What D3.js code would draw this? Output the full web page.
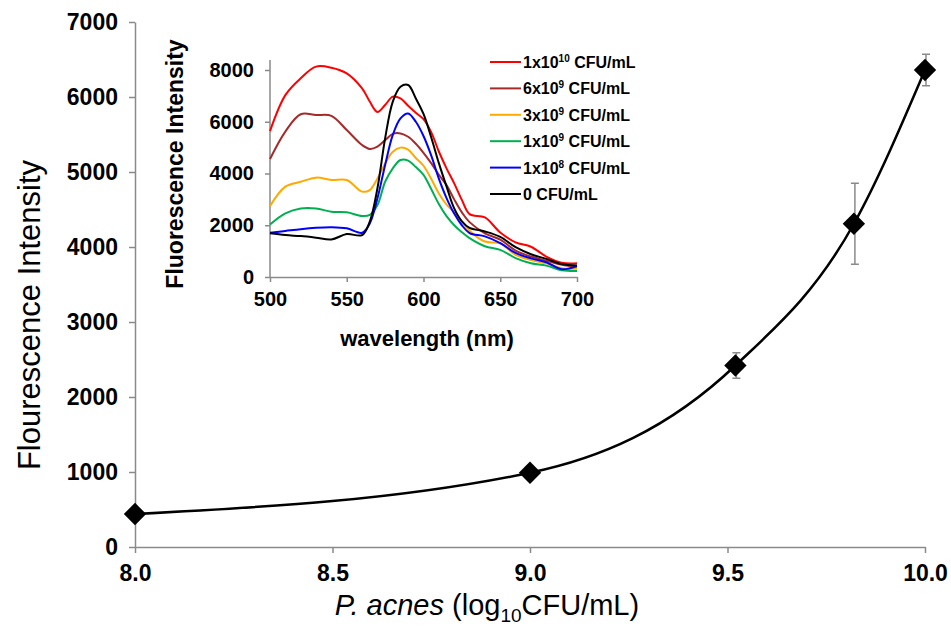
<html>
<head>
<meta charset="UTF-8">
<script src="https://d3js.org/d3.v7.min.js"></script>
<style>
  body { margin: 0; background: #fff; }
  text { font-family: "Liberation Sans", Arial, sans-serif; }
</style>
</head>
<body>
<svg width="951" height="629"></svg>
<script>
// main plot: P. acnes concentration vs fluorescence
var logCfu = [8.0, 9.0, 9.52, 9.82, 10.0];
var intensity = [440, 990, 2420, 4310, 6360];
var errs = [0, 25, 170, 540, 210];
var mainXTicks = [8.0, 8.5, 9.0, 9.5, 10.0];
var mainYTicks = [0, 1000, 2000, 3000, 4000, 5000, 6000, 7000];

// inset spectra
var wavelength = [500,510,520,530,540,550,560,565,570,575,580,585,590,595,600,605,610,615,620,625,630,640,650,660,670,680,690,700];
var s1e10 = [5640,7030,7680,8130,8090,7870,7290,6780,6380,6650,6970,6900,6620,6350,6100,5600,4850,4200,3620,2980,2430,2300,1720,1340,1170,790,550,530];
var s6e9  = [4560,5620,6290,6260,6230,5680,5100,4950,5040,5290,5530,5550,5420,5150,4800,4400,3950,3550,3000,2500,2120,1690,1440,1020,790,630,470,400];
var s3e9  = [2740,3490,3680,3840,3750,3750,3300,3360,3810,4390,4840,5000,4920,4600,4300,3800,3230,2800,2500,2150,1790,1370,1300,860,660,530,340,320];
var s1e9  = [2030,2460,2650,2650,2520,2500,2360,2400,2780,3680,4200,4520,4500,4250,3950,3400,2820,2350,2000,1730,1500,1190,1050,730,530,440,260,230];
var s1e8  = [1710,1780,1850,1900,1920,1880,1710,2070,3040,4330,5490,6130,6320,6000,5450,4700,3800,3050,2450,2000,1700,1570,1310,930,720,570,300,420];
var s0    = [1690,1620,1580,1520,1450,1660,1620,2140,3430,5360,6780,7350,7420,6900,6300,5400,4400,3500,2650,2150,1900,1760,1550,1150,880,700,500,440];
var seriesNames = ["1x10", "6x10", "3x10", "1x10", "1x10", "0 CFU/mL"];
var seriesExp = ["10", "9", "9", "9", "8", ""];
var seriesColors = ["#ff0000", "#a52a2a", "#ffaa00", "#00b050", "#0000ff", "#000000"];
var insetXTicks = [500, 550, 600, 650, 700];
var insetYTicks = [0, 2000, 4000, 6000, 8000];

var svg = d3.select("svg");
var axisGrey = "#8a8a8a";

// ---------- main chart ----------
var x = d3.scaleLinear().domain([8, 10]).range([135, 925]);
var y = d3.scaleLinear().domain([0, 7000]).range([547, 22]);

var gx = svg.append("g")
  .attr("transform", "translate(0," + y(0) + ")")
  .call(d3.axisBottom(x).tickValues(mainXTicks).tickFormat(d3.format(".1f")).tickSize(6).tickSizeOuter(0).tickPadding(12));
var gy = svg.append("g")
  .attr("transform", "translate(" + x(8) + ",0)")
  .call(d3.axisLeft(y).tickValues(mainYTicks).tickFormat(d3.format("d")).tickSize(6).tickSizeOuter(0).tickPadding(11));

[gx, gy].forEach(function(g){
  g.select(".domain").attr("stroke", axisGrey).attr("stroke-width", 1.5);
  g.selectAll(".tick line").attr("stroke", axisGrey).attr("stroke-width", 1.5);
  g.selectAll(".tick text").attr("fill", "#000").style("font-size", "23px").style("font-weight", "bold");
});

svg.append("text")
  .attr("transform", "translate(40,315) rotate(-90)")
  .attr("text-anchor", "middle")
  .style("font-size", "31px")
  .text("Flourescence Intensity");

var xt = svg.append("text")
  .attr("x", 487).attr("y", 615)
  .attr("text-anchor", "middle")
  .style("font-size", "29px");
xt.append("tspan").style("font-style", "italic").text("P. acnes");
xt.append("tspan").text(" (log");
xt.append("tspan").style("font-size", "19px").attr("dy", 7).text("10");
xt.append("tspan").attr("dy", -7).text("CFU/mL)");

var pts = logCfu.map(function(d, i){ return {x: d, y: intensity[i], e: errs[i]}; });

var line = d3.line()
  .x(function(d){ return x(d.x); })
  .y(function(d){ return y(d.y); })
  .curve(d3.curveMonotoneX);

svg.append("path").datum(pts)
  .attr("d", line)
  .attr("fill", "none")
  .attr("stroke", "#000")
  .attr("stroke-width", 2.5);

// error bars
var eb = svg.selectAll(".eb").data(pts.filter(function(d){ return d.e > 0; })).enter().append("g");
eb.append("line")
  .attr("x1", function(d){ return x(d.x) + 1; }).attr("x2", function(d){ return x(d.x) + 1; })
  .attr("y1", function(d){ return y(d.y + d.e); }).attr("y2", function(d){ return y(d.y - d.e); });
eb.append("line")
  .attr("x1", function(d){ return x(d.x) - 3; }).attr("x2", function(d){ return x(d.x) + 5; })
  .attr("y1", function(d){ return y(d.y + d.e); }).attr("y2", function(d){ return y(d.y + d.e); });
eb.append("line")
  .attr("x1", function(d){ return x(d.x) - 3; }).attr("x2", function(d){ return x(d.x) + 5; })
  .attr("y1", function(d){ return y(d.y - d.e); }).attr("y2", function(d){ return y(d.y - d.e); });
eb.selectAll("line").attr("stroke", axisGrey).attr("stroke-width", 1.5);

svg.selectAll(".pt").data(pts).enter().append("path")
  .attr("d", d3.symbol(d3.symbolSquare, 250))
  .attr("transform", function(d){ return "translate(" + x(d.x) + "," + y(d.y) + ") rotate(45)"; })
  .attr("fill", "#000");

// ---------- inset ----------
var ix = d3.scaleLinear().domain([500, 700]).range([270, 577]);
var iy = d3.scaleLinear().domain([0, 8000]).range([277, 70]);

var igx = svg.append("g")
  .attr("transform", "translate(0," + iy(0) + ")")
  .call(d3.axisBottom(ix).tickValues(insetXTicks).tickSize(5).tickSizeOuter(0).tickPadding(10));
var igy = svg.append("g")
  .attr("transform", "translate(" + ix(500) + ",0)")
  .call(d3.axisLeft(iy).tickValues(insetYTicks).tickFormat(d3.format("d")).tickSize(5).tickSizeOuter(0).tickPadding(11));
igy.select(".domain").attr("d", "M0," + iy(0) + "V" + (iy(8000) - 10));

[igx, igy].forEach(function(g){
  g.select(".domain").attr("stroke", axisGrey).attr("stroke-width", 1.5);
  g.selectAll(".tick line").attr("stroke", axisGrey).attr("stroke-width", 1.5);
  g.selectAll(".tick text").attr("fill", "#000").style("font-size", "20px").style("font-weight", "bold");
});

svg.append("text")
  .attr("transform", "translate(183,164) rotate(-90)")
  .attr("text-anchor", "middle")
  .style("font-size", "23px").style("font-weight", "bold")
  .text("Fluorescence Intensity");
svg.append("text")
  .attr("x", 427).attr("y", 346)
  .attr("text-anchor", "middle")
  .style("font-size", "22px").style("font-weight", "bold")
  .text("wavelength (nm)");

var spectra = [s1e10, s6e9, s3e9, s1e9, s1e8, s0];
var sline = d3.line()
  .x(function(d, i){ return ix(wavelength[i]); })
  .y(function(d){ return iy(d); })
  .curve(d3.curveCatmullRom);

svg.selectAll(".spec").data(spectra).enter().append("path")
  .attr("d", sline)
  .attr("fill", "none")
  .attr("stroke", function(d, i){ return seriesColors[i]; })
  .attr("stroke-width", 2);

// legend
var lg = svg.selectAll(".lg").data(seriesNames).enter().append("g")
  .attr("transform", function(d, i){ return "translate(490," + (62 + i * 26.4) + ")"; });
lg.append("line").attr("x1", 0).attr("x2", 31).attr("y1", 0).attr("y2", 0)
  .attr("stroke", function(d, i){ return seriesColors[i]; }).attr("stroke-width", 2);
var lt = lg.append("text").attr("x", 33).attr("y", 6)
  .style("font-size", "16px").style("font-weight", "bold");
lt.append("tspan").text(function(d){ return d; });
lt.append("tspan").attr("dy", -6).style("font-size", "10px").text(function(d, i){ return seriesExp[i]; });
lt.append("tspan").attr("dy", 6).text(function(d, i){ return seriesExp[i] ? " CFU/mL" : ""; });
</script>
</body>
</html>
